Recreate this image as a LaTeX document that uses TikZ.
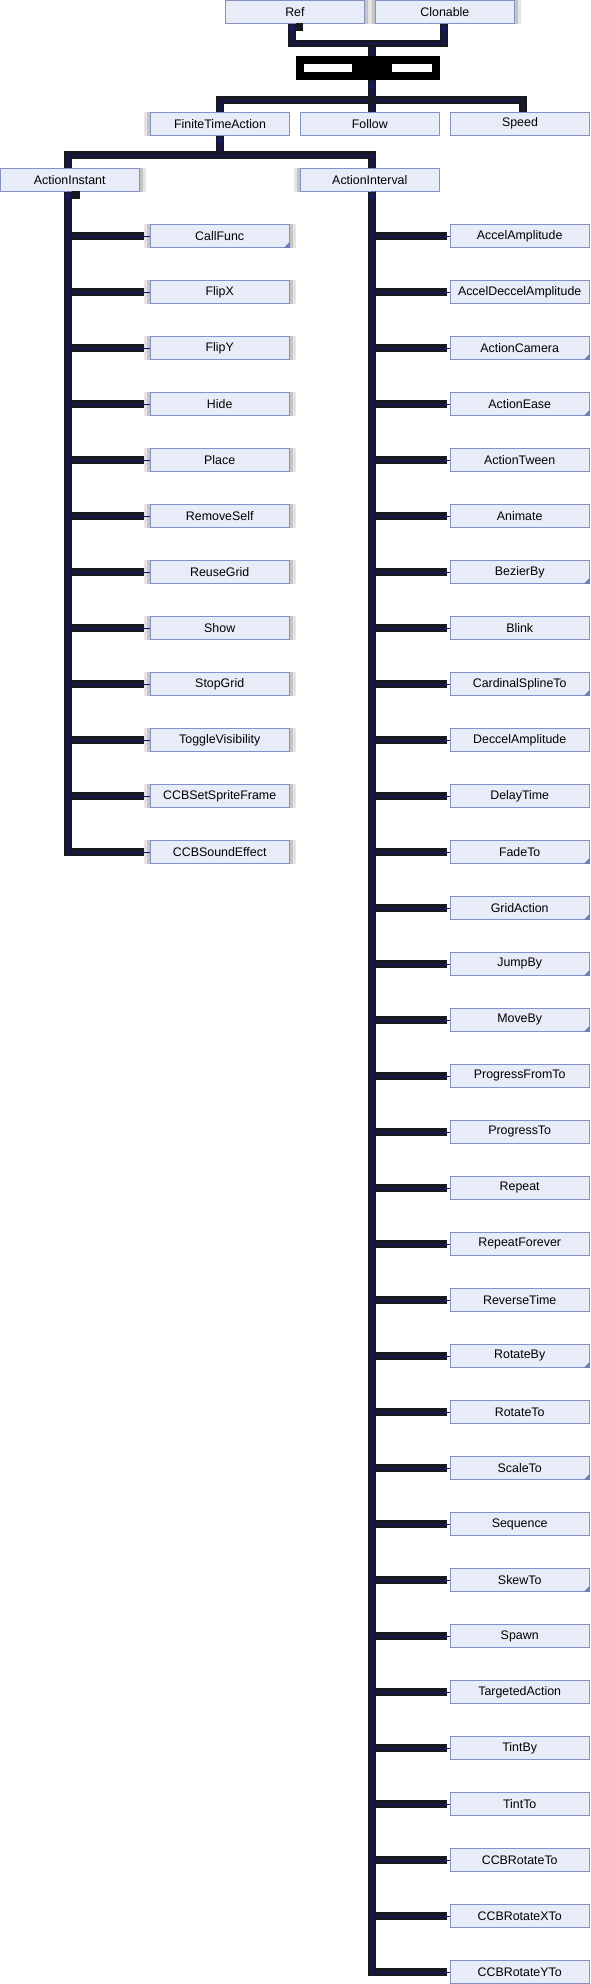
\documentclass[tikz,border=0pt]{standalone}
\usepackage{fontspec}
\setmainfont{Liberation Sans}
\usetikzlibrary{calc}
\pgfdeclarelayer{bg}
\pgfsetlayers{bg,main}
\definecolor{boxfill}{RGB}{232,236,248}
\definecolor{boxline}{RGB}{132,144,200}
\definecolor{edgedark}{RGB}{24,24,34}
\definecolor{edgenavy}{RGB}{25,25,112}
\definecolor{cornerc}{RGB}{110,125,190}
\definecolor{shadowa}{RGB}{228,228,228}
\definecolor{shadowb}{RGB}{196,196,196}
\tikzset{
  cls/.style={draw=boxline, fill=boxfill, line width=0.8pt, minimum width=139.3pt,
    minimum height=23pt, inner sep=0pt, text=black,
    font=\fontsize{12.4}{14}\selectfont},
  thickedge/.style={draw=edgedark, line width=7.5pt},
  thinedge/.style={draw=edgenavy, line width=0.7pt},
}
\newcommand\shadowL[1]{\begin{pgfonlayer}{bg}
  \fill[shadowa] ([xshift=-6pt]#1.south west) rectangle (#1.north west);
  \fill[shadowb] ([xshift=-3pt]#1.south west) rectangle (#1.north west);
  \end{pgfonlayer}}
\newcommand\shadowR[1]{\begin{pgfonlayer}{bg}
  \fill[shadowa] ([xshift=6pt]#1.south east) rectangle (#1.north east);
  \fill[shadowb] ([xshift=3pt]#1.south east) rectangle (#1.north east);
  \end{pgfonlayer}}
\newcommand\dogear[1]{\fill[cornerc] (#1.south east) -- ++(-6pt,0pt) -- ++(6pt,6pt) -- cycle;}
\newcommand\edgepath[1]{\draw[thickedge] #1; \draw[thinedge] #1;}
\newcommand\arrowup[1]{\fill[edgenavy] (#1) -- ++(-3pt,-7pt) -- ++(6pt,0pt) -- cycle;}
\begin{document}
\begin{tikzpicture}[x=1pt,y=-1pt]
\useasboundingbox (0,0) rectangle (590,1984);
% top level
\node[cls] (ref) at (294.9,11.6) {Ref};
\node[cls] (clo) at (444.9,11.6) {Clonable};
\shadowR{ref}\shadowL{clo}\shadowR{clo}
\node[fill=black, minimum width=143.4pt, minimum height=24pt, inner sep=0pt] (act) at (367.9,68) {};
\fill[white] (303.7,64.3) rectangle (351.9,71.7);
\fill[white] (392.2,64.3) rectangle (432.1,71.7);
\node[cls] (fta) at (220,123.6) {FiniteTimeAction};
\node[cls] (fol) at (369.8,123.6) {Follow};
\node[cls] (spd) at (520,123.6) {Speed};
\shadowL{fta}
\node[cls] (ai) at (69.7,179.6) {ActionInstant};
\node[cls] (aiv) at (369.8,179.6) {ActionInterval};
\shadowR{ai}\shadowL{aiv}
% guide coordinates
\coordinate (xRef) at (292,0);
\coordinate (xClo) at (444,0);
\coordinate (xFta) at (220,0);
\coordinate (xSpd) at (523,0);
\coordinate (xL) at (68,0);
\coordinate (xR) at (372,0);
\coordinate (j1) at (372,43.5);
\coordinate (j2) at (372,100);
\coordinate (j3) at (220,155);
% top edges
\edgepath{(ref.south -| xRef) |- (j1) -- (act.north -| j1)}
\edgepath{(clo.south -| xClo) |- (j1)}
\edgepath{(act.south -| j2) -- (j2) -| (fta.north -| xFta)}
\edgepath{(j2) -- (fol.north -| j2)}
\edgepath{(j2) -| (spd.north -| xSpd)}
\edgepath{(fta.south -| xFta) -- (j3) -| (ai.north -| xL)}
\edgepath{(j3) -| (aiv.north -| xR)}
\fill[edgedark] (296,23.3) rectangle (303,31);
\fill[edgedark] (72,191) rectangle (80,199);
% left column
\foreach \t/\c [count=\i from 0] in {CallFunc/1, FlipX/0, FlipY/0, Hide/0, Place/0,
  RemoveSelf/0, ReuseGrid/0, Show/0, StopGrid/0, ToggleVisibility/0,
  CCBSetSpriteFrame/0, CCBSoundEffect/0} {
  \node[cls] (L\i) at (219.7,{236+56*\i}) {\t};
  \shadowL{L\i}\shadowR{L\i}
  \ifnum\c=1 \dogear{L\i}\fi
  \draw[thickedge] (ai.south -| xL) |- ([xshift=-6pt]L\i.west);
  \draw[thinedge] (ai.south -| xL) |- (L\i.west);
}
% right column
\foreach \t/\c [count=\i from 0] in {AccelAmplitude/0, AccelDeccelAmplitude/0,
  ActionCamera/1, ActionEase/1, ActionTween/0, Animate/0, BezierBy/1, Blink/0,
  CardinalSplineTo/1, DeccelAmplitude/0, DelayTime/0, FadeTo/1, GridAction/1,
  JumpBy/1, MoveBy/1, ProgressFromTo/0, ProgressTo/0, Repeat/0, RepeatForever/0,
  ReverseTime/0, RotateBy/1, RotateTo/0, ScaleTo/1, Sequence/0, SkewTo/1,
  Spawn/0, TargetedAction/0, TintBy/0, TintTo/0, CCBRotateTo/0,
  CCBRotateXTo/0, CCBRotateYTo/0} {
  \node[cls] (R\i) at (519.7,{236+56*\i}) {\t};
  \ifnum\c=1 \dogear{R\i}\fi
  \draw[thickedge] (aiv.south -| xR) |- ([xshift=-3pt]R\i.west);
  \draw[thinedge] (aiv.south -| xR) |- (R\i.west);
}
% arrowheads at parents
\arrowup{ref.south -| xRef}
\arrowup{clo.south -| xClo}
\arrowup{act.south -| j2}
\arrowup{fta.south -| xFta}
\arrowup{ai.south -| xL}
\arrowup{aiv.south -| xR}
\end{tikzpicture}
\end{document}
